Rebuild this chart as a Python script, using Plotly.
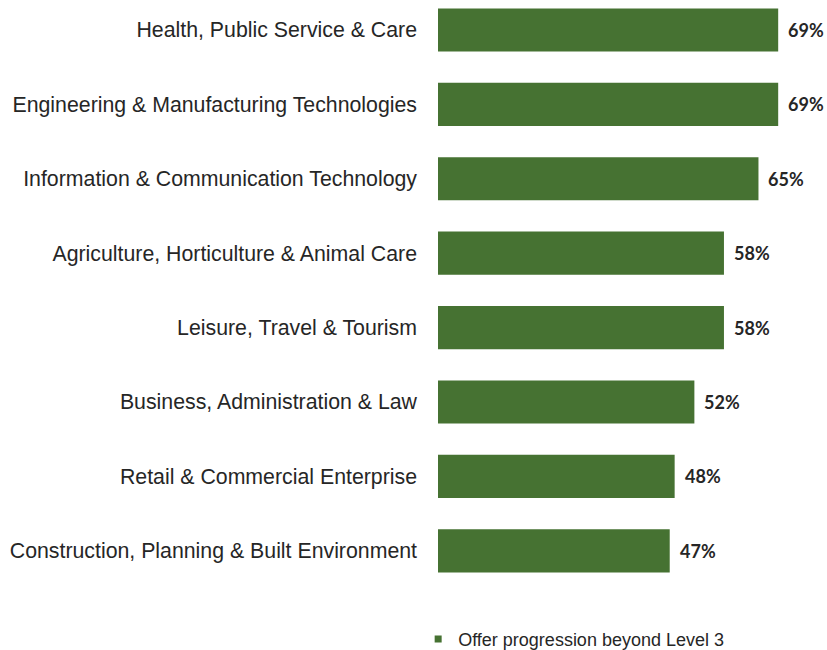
import plotly.graph_objects as go

# Sector areas, listed top to bottom
sectors = [
    "Health, Public Service & Care",
    "Engineering & Manufacturing Technologies",
    "Information & Communication Technology",
    "Agriculture, Horticulture & Animal Care",
    "Leisure, Travel & Tourism",
    "Business, Administration & Law",
    "Retail & Commercial Enterprise",
    "Construction, Planning & Built Environment",
]
# Share of providers offering progression beyond Level 3 (%)
offer_progression = [69, 69, 65, 58, 58, 52, 48, 47]
series_name = "Offer progression beyond Level 3"

BAR_GREEN = "#467232"
TEXT_DARK = "#262626"

fig = go.Figure()
fig.add_trace(go.Bar(
    x=offer_progression,
    y=sectors,
    orientation="h",
    marker=dict(color=BAR_GREEN, line=dict(width=0)),
    width=0.58,
    showlegend=False,
    hoverinfo="x+y",
))
# Legend entry drawn with a small square swatch
fig.add_trace(go.Scatter(
    x=[None], y=[None],
    mode="markers",
    marker=dict(symbol="square", size=7, color=BAR_GREEN),
    name=series_name,
    showlegend=True,
))

for s, v in zip(sectors, offer_progression):
    fig.add_annotation(
        x=v, y=s, xref="x", yref="y",
        text=f"<b>{v}%</b>",
        showarrow=False,
        xanchor="left", yanchor="middle",
        xshift=8,
        font=dict(family="Lato, Open Sans, sans-serif", size=18, color=TEXT_DARK),
    )

fig.update_layout(
    width=827, height=650,
    margin=dict(l=438, r=0, t=0, b=55, autoexpand=False),
    plot_bgcolor="white",
    paper_bgcolor="white",
    bargap=0.42,
    legend=dict(
        orientation="h",
        x=-0.051, xanchor="left",
        y=-0.0745, yanchor="middle",
        font=dict(family="Liberation Sans, Arial, sans-serif", size=18, color=TEXT_DARK),
        bgcolor="rgba(0,0,0,0)",
    ),
)
fig.update_xaxes(
    range=[0, 78.9],
    visible=False,
    showgrid=False,
    zeroline=False,
)
fig.update_yaxes(
    type="category",
    categoryorder="array",
    categoryarray=sectors,
    range=[7.594, -0.403],
    showgrid=False,
    zeroline=False,
    showline=False,
    ticks="",
    ticklabelstandoff=20,
    tickfont=dict(family="Liberation Sans, Arial, sans-serif", size=21.3, color=TEXT_DARK),
)

fig.write_html("out.html")
